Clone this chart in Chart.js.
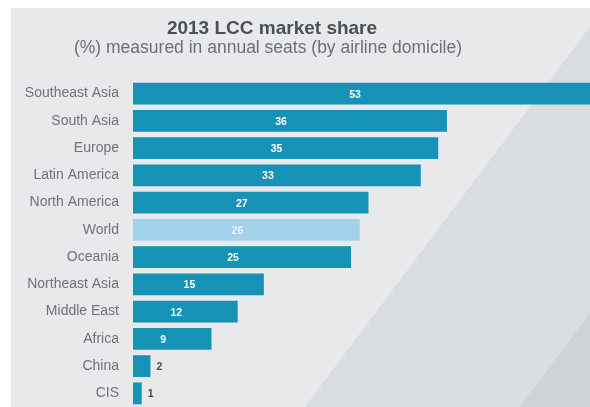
<!DOCTYPE html>
<html>
<head>
<meta charset="utf-8">
<script src="https://cdn.jsdelivr.net/npm/chart.js@4/dist/chart.umd.min.js"></script>
<style>
  html, body { margin: 0; padding: 0; background: #fff; overflow: hidden; }
  canvas { display: block; }
</style>
</head>
<body>
<canvas id="chart" width="590" height="407"></canvas>
<script>
const regions = ['Southeast Asia', 'South Asia', 'Europe', 'Latin America', 'North America', 'World',
  'Oceania', 'Northeast Asia', 'Middle East', 'Africa', 'China', 'CIS'];
const shares = [53, 36, 35, 33, 27, 26, 25, 15, 12, 9, 2, 1];
const highlight = 'World';

const titleText = '2013 LCC market share';
const subtitleText = '(%) measured in annual seats (by airline domicile)';

const BAR_BLUE = '#1592b5';
const WORLD_BLUE = '#a3d2eb';

// grey panel with the slanted light bands
const panelBg = {
  id: 'panelBg',
  beforeDraw(chart) {
    const ctx = chart.ctx;
    const w = chart.width, h = chart.height;
    ctx.save();
    ctx.fillStyle = '#ffffff';
    ctx.fillRect(0, 0, w, h);
    ctx.fillStyle = '#e7e9ea';
    ctx.fillRect(11, 8, w - 11, h - 8);
    // middle band
    ctx.fillStyle = '#dadddf';
    ctx.beginPath();
    ctx.moveTo(460 + 0.75 * 192, 8);
    ctx.lineTo(w, 8);
    ctx.lineTo(w, h);
    ctx.lineTo(460 - 0.75 * 207, h);
    ctx.closePath();
    ctx.fill();
    // darker corner
    ctx.fillStyle = '#cfd3d5';
    ctx.beginPath();
    ctx.moveTo(w, 313);
    ctx.lineTo(w, h);
    ctx.lineTo(590 - 0.745 * 94, h);
    ctx.closePath();
    ctx.fill();
    ctx.restore();
  }
};

// heading lines above the bars
const headings = {
  id: 'headings',
  afterDraw(chart) {
    const ctx = chart.ctx;
    ctx.save();
    ctx.textAlign = 'center';
    ctx.textBaseline = 'middle';
    ctx.fillStyle = '#4b5055';
    ctx.font = 'bold 19px "Liberation Sans", Arial, sans-serif';
    ctx.fillText(titleText, 272, 29);
    ctx.fillStyle = '#6c7075';
    ctx.font = '17.5px "Liberation Sans", Arial, sans-serif';
    ctx.fillText(subtitleText, 268, 48);
    ctx.restore();
  }
};

// value numbers inside the bars (outside for the tiny ones)
const barValues = {
  id: 'barValues',
  afterDatasetsDraw(chart) {
    const ctx = chart.ctx;
    const meta = chart.getDatasetMeta(0);
    const right = chart.chartArea.right;
    ctx.save();
    ctx.font = 'bold 10.5px "Liberation Sans", Arial, sans-serif';
    ctx.textBaseline = 'middle';
    meta.data.forEach((bar, i) => {
      const v = shares[i];
      if (v < 5) {
        ctx.fillStyle = '#4a4a4a';
        ctx.textAlign = 'left';
        ctx.fillText(v, bar.x + 6, bar.y + 1);
      } else {
        const end = Math.min(bar.x, right + 5);
        ctx.fillStyle = regions[i] === highlight ? 'rgba(255,255,255,0.75)' : '#ffffff';
        ctx.textAlign = 'center';
        ctx.fillText(v, bar.base + (end - bar.base) / 2 - 9, bar.y + 1);
      }
    });
    ctx.restore();
  }
};

const config = {
  type: 'bar',
  data: {
    labels: regions,
    datasets: [{
      data: shares,
      backgroundColor: regions.map(r => r === highlight ? WORLD_BLUE : BAR_BLUE),
      barPercentage: 0.8,
      categoryPercentage: 1
    }]
  },
  options: {
    indexAxis: 'y',
    responsive: false,
    animation: false,
    layout: { padding: { top: 80, left: 0, right: 0, bottom: 0 } },
    plugins: {
      legend: { display: false },
      tooltip: { enabled: false }
    },
    scales: {
      x: {
        display: false,
        min: 0,
        max: 52.4
      },
      y: {
        grid: { display: false, drawTicks: false },
        border: { display: false },
        ticks: {
          padding: 14,
          color: '#6f7377',
          font: { family: '"Liberation Sans", Arial, sans-serif', size: 14 }
        },
        afterFit(scale) {
          // fixed label column, bars run right down to the bottom edge
          scale.width = 133;
          scale.paddingTop = 0;
          scale.paddingBottom = 0;
        }
      }
    }
  },
  plugins: [panelBg, headings, barValues]
};

const myChart = new Chart(document.getElementById('chart'), config);
</script>
</body>
</html>
